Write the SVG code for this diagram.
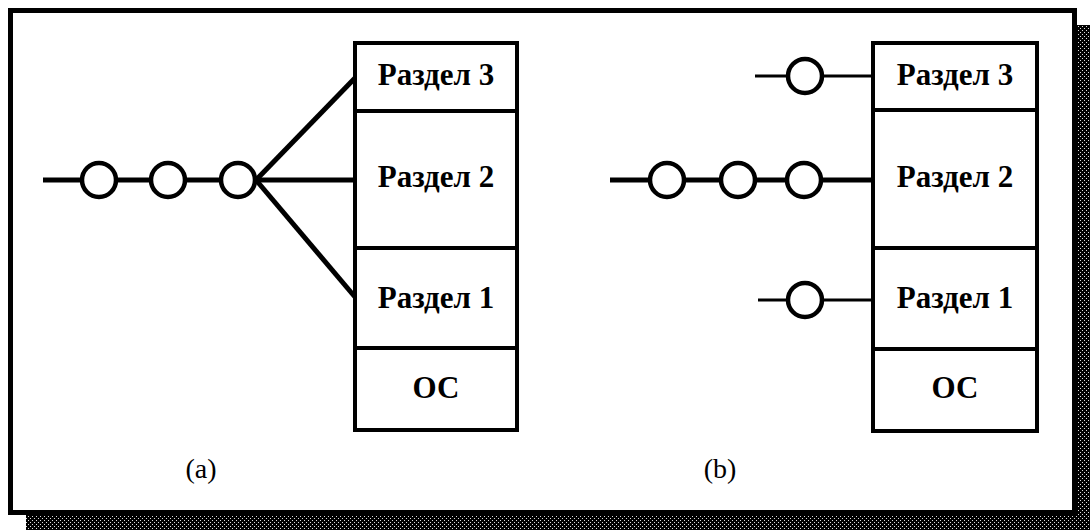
<svg xmlns="http://www.w3.org/2000/svg" width="1090" height="530" viewBox="0 0 1090 530">
<defs>
<pattern id="dither" width="4" height="4" patternUnits="userSpaceOnUse">
<rect width="4" height="4" fill="#000"/>
<rect x="0" y="0" width="1" height="1" fill="#ddd"/>
<rect x="2" y="2" width="1" height="1" fill="#ddd"/>
</pattern>
</defs>
<style>
.box{fill:#fff;stroke:#000;stroke-width:4}
.div{stroke:#000;stroke-width:4}
.ln{stroke:#000;stroke-width:5;fill:none}
.thin{stroke:#000;stroke-width:3;fill:none}
.node{fill:#fff;stroke:#000;stroke-width:4.5}
.lbl{font-family:"Liberation Serif",serif;font-weight:bold;font-size:31px;text-anchor:middle;fill:#000}
.cap{font-family:"Liberation Serif",serif;font-size:28px;text-anchor:middle;fill:#000}
</style>
<rect width="1090" height="530" fill="#fff"/>
<g id="shadow">
<rect x="1077" y="25" width="13" height="505" fill="url(#dither)"/>
<rect x="26" y="515" width="1064" height="15" fill="url(#dither)"/>
</g>
<rect id="frame" x="10.5" y="10.5" width="1064" height="502" fill="#fff" stroke="#000" stroke-width="5"/>
<g id="connectors">
<line class="ln" x1="43" y1="180" x2="355" y2="180"/>
<line class="ln" x1="256" y1="180" x2="355" y2="78"/>
<line class="ln" x1="256" y1="180" x2="355" y2="297"/>
<line class="ln" x1="610" y1="180" x2="873" y2="180"/>
<line class="thin" x1="755" y1="76" x2="873" y2="76"/>
<line class="thin" x1="758" y1="300" x2="873" y2="300"/>
</g>
<g id="memory-a">
<rect class="box" x="355" y="43" width="162" height="387"/>
<line class="div" x1="355" y1="111" x2="517" y2="111"/>
<line class="div" x1="355" y1="248" x2="517" y2="248"/>
<line class="div" x1="355" y1="348" x2="517" y2="348"/>
</g>
<g id="a-p3"><text class="lbl" x="436" y="85">Раздел 3</text></g>
<g id="a-p2"><text class="lbl" x="436" y="187">Раздел 2</text></g>
<g id="a-p1"><text class="lbl" x="436" y="308">Раздел 1</text></g>
<g id="a-os"><text class="lbl" x="436" y="398">ОС</text></g>
<g id="a-q1"><circle class="node" cx="99" cy="180" r="17"/></g>
<g id="a-q2"><circle class="node" cx="168" cy="180" r="17"/></g>
<g id="a-q3"><circle class="node" cx="238" cy="180" r="17"/></g>
<g id="memory-b">
<rect class="box" x="873" y="43" width="164" height="388"/>
<line class="div" x1="873" y1="110" x2="1037" y2="110"/>
<line class="div" x1="873" y1="248" x2="1037" y2="248"/>
<line class="div" x1="873" y1="349" x2="1037" y2="349"/>
</g>
<g id="b-p3"><text class="lbl" x="955" y="85">Раздел 3</text></g>
<g id="b-p2"><text class="lbl" x="955" y="187">Раздел 2</text></g>
<g id="b-p1"><text class="lbl" x="955" y="308">Раздел 1</text></g>
<g id="b-os"><text class="lbl" x="955" y="398">ОС</text></g>
<g id="b-q1"><circle class="node" cx="667" cy="180" r="17"/></g>
<g id="b-q2"><circle class="node" cx="738" cy="180" r="17"/></g>
<g id="b-q3"><circle class="node" cx="804" cy="180" r="17"/></g>
<g id="b-q4"><circle class="node" cx="805" cy="76" r="17"/></g>
<g id="b-q5"><circle class="node" cx="805" cy="300" r="17"/></g>
<g id="cap-a"><text class="cap" x="201" y="478">(a)</text></g>
<g id="cap-b"><text class="cap" x="720" y="478">(b)</text></g>
</svg>
